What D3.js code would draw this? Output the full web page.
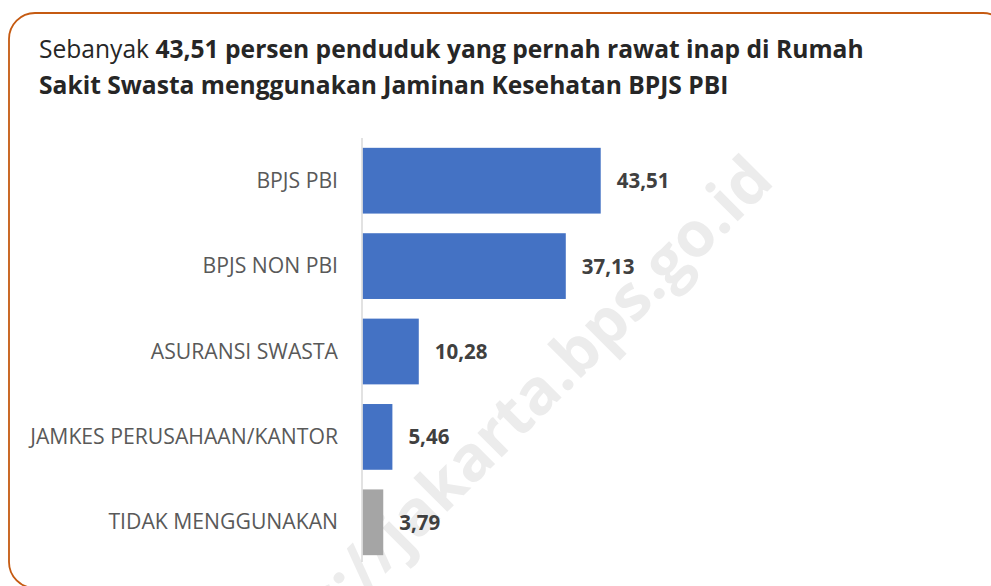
<!DOCTYPE html>
<html>
<head>
<meta charset="utf-8">
<script src="https://cdn.jsdelivr.net/npm/d3@7"></script>
<style>
  body { margin: 0; background: #fff; }
  svg { display: block; font-family: "Open Sans", sans-serif; }
</style>
</head>
<body>
<div id="chart"></div>
<script>
// Data
const categories = ["BPJS PBI", "BPJS NON PBI", "ASURANSI SWASTA", "JAMKES PERUSAHAAN/KANTOR", "TIDAK MENGGUNAKAN"]
const values = [43.51, 37.13, 10.28, 5.46, 3.79]
const barColors = ["#4472C4", "#4472C4", "#4472C4", "#4472C4", "#A5A5A5"]
const titleNormal = "Sebanyak "
const titleBold1 = "43,51 persen penduduk yang pernah rawat inap di Rumah"
const titleLine2 = "Sakit Swasta menggunakan Jaminan Kesehatan BPJS PBI"
const watermark = "https://jakarta.bps.go.id"

function draw() {
  const dataset = categories.map((c, i) => ({ cat: c, val: values[i], color: barColors[i] }))

  // Dimensions
  let dimensions = {
    width: 991,
    height: 586,
    axisX: 362.5,
    top: 138,
    bottom: 565
  }

  const svg = d3.select('#chart')
    .append("svg")
    .attr("width", dimensions.width)
    .attr("height", dimensions.height)

  // watermark (cut by the bottom edge, like the source image)
  svg.append("text")
    .attr("transform", "translate(776,183) rotate(-45)")
    .attr("text-anchor", "end")
    .attr("font-size", 63)
    .attr("font-weight", "bold")
    .attr("fill", "#ececec")
    .text(watermark)

  // frame
  svg.append("rect")
    .attr("x", 9)
    .attr("y", 13)
    .attr("width", 1000)
    .attr("height", 575)
    .attr("rx", 26)
    .attr("fill", "none")
    .attr("stroke", "#C55A11")
    .attr("stroke-width", 1.8)

  // title
  const title = svg.append("g").attr("fill", "#262626").attr("font-size", 24.6)
  const t1 = title.append("text").attr("x", 39).attr("y", 58)
  t1.append("tspan").text(titleNormal)
  t1.append("tspan").attr("font-weight", "bold").text(titleBold1)
  title.append("text").attr("x", 39).attr("y", 94)
    .attr("font-weight", "bold")
    .text(titleLine2)

  // Scales
  const yScale = d3.scaleBand()
    .domain(categories)
    .range([dimensions.top, dimensions.bottom])
    .paddingInner(0.23)
    .paddingOuter(0.115)

  const xScale = d3.scaleLinear()
    .domain([0, 50])
    .range([dimensions.axisX, dimensions.axisX + 273.75])

  const ctr = svg.append("g")

  ctr.selectAll("rect.bar")
    .data(dataset)
    .join("rect")
    .classed("bar", true)
    .attr("x", xScale(0))
    .attr("y", d => yScale(d.cat))
    .attr("width", d => xScale(d.val) - xScale(0))
    .attr("height", yScale.bandwidth())
    .attr("fill", d => d.color)

  // category labels
  ctr.append("g")
    .selectAll("text")
    .data(dataset)
    .join("text")
    .attr("x", 338)
    .attr("y", d => yScale(d.cat) + yScale.bandwidth() / 2 + 7)
    .attr("text-anchor", "end")
    .attr("font-size", 21.2)
    .attr("fill", "#595959")
    .text(d => d.cat)

  // value labels
  ctr.append("g")
    .selectAll("text")
    .data(dataset)
    .join("text")
    .attr("x", d => xScale(d.val) + 16)
    .attr("y", d => yScale(d.cat) + yScale.bandwidth() / 2 + 7.5)
    .attr("font-size", 20.5)
    .attr("font-weight", "bold")
    .attr("fill", "#404040")
    .text(d => d3.format(".2f")(d.val).replace(".", ","))

  // axis line
  ctr.append("line")
    .attr("x1", dimensions.axisX - 0.5)
    .attr("x2", dimensions.axisX - 0.5)
    .attr("y1", dimensions.top)
    .attr("y2", 562)
    .attr("stroke", "#d9d9d9")
    .attr("stroke-width", 1.5)
}

draw()
</script>
</body>
</html>
